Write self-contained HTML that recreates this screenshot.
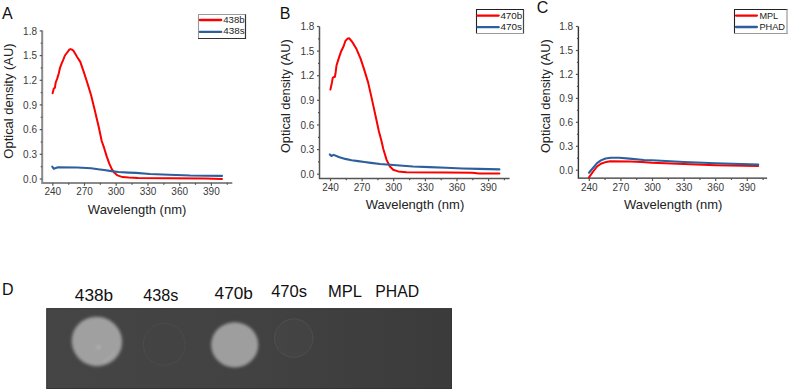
<!DOCTYPE html>
<html><head><meta charset="utf-8"><style>
html,body{margin:0;padding:0;background:#fff;}
body{width:789px;height:390px;overflow:hidden;}
svg{display:block;font-family:"Liberation Sans", sans-serif;}
</style></head><body>
<svg width="789" height="390" viewBox="0 0 789 390">
<text x="2.0" y="18.9" font-size="16" fill="#111">A</text>
<path d="M42.2,30.5V183.0H232.3" fill="none" stroke="#8a8a8a" stroke-width="2.0"/>
<path d="M39.7,179.0H42.2" stroke="#555" stroke-width="1.2"/>
<text x="37.0" y="182.6" font-size="10" text-anchor="end" fill="#3a3a3a">0.0</text>
<path d="M40.7,166.7H42.2" stroke="#555" stroke-width="1.2"/>
<path d="M39.7,154.3H42.2" stroke="#555" stroke-width="1.2"/>
<text x="37.0" y="157.9" font-size="10" text-anchor="end" fill="#3a3a3a">0.3</text>
<path d="M40.7,142.0H42.2" stroke="#555" stroke-width="1.2"/>
<path d="M39.7,129.6H42.2" stroke="#555" stroke-width="1.2"/>
<text x="37.0" y="133.2" font-size="10" text-anchor="end" fill="#3a3a3a">0.6</text>
<path d="M40.7,117.3H42.2" stroke="#555" stroke-width="1.2"/>
<path d="M39.7,104.9H42.2" stroke="#555" stroke-width="1.2"/>
<text x="37.0" y="108.5" font-size="10" text-anchor="end" fill="#3a3a3a">0.9</text>
<path d="M40.7,92.6H42.2" stroke="#555" stroke-width="1.2"/>
<path d="M39.7,80.3H42.2" stroke="#555" stroke-width="1.2"/>
<text x="37.0" y="83.9" font-size="10" text-anchor="end" fill="#3a3a3a">1.2</text>
<path d="M40.7,67.9H42.2" stroke="#555" stroke-width="1.2"/>
<path d="M39.7,55.6H42.2" stroke="#555" stroke-width="1.2"/>
<text x="37.0" y="59.2" font-size="10" text-anchor="end" fill="#3a3a3a">1.5</text>
<path d="M40.7,43.2H42.2" stroke="#555" stroke-width="1.2"/>
<path d="M39.7,30.9H42.2" stroke="#555" stroke-width="1.2"/>
<text x="37.0" y="34.5" font-size="10" text-anchor="end" fill="#3a3a3a">1.8</text>
<path d="M52.8,183.0V185.8" stroke="#555" stroke-width="1.2"/>
<text x="52.8" y="195.4" font-size="10" text-anchor="middle" fill="#3a3a3a">240</text>
<path d="M84.5,183.0V185.8" stroke="#555" stroke-width="1.2"/>
<text x="84.5" y="195.4" font-size="10" text-anchor="middle" fill="#3a3a3a">270</text>
<path d="M116.2,183.0V185.8" stroke="#555" stroke-width="1.2"/>
<text x="116.2" y="195.4" font-size="10" text-anchor="middle" fill="#3a3a3a">300</text>
<path d="M148.0,183.0V185.8" stroke="#555" stroke-width="1.2"/>
<text x="148.0" y="195.4" font-size="10" text-anchor="middle" fill="#3a3a3a">330</text>
<path d="M179.7,183.0V185.8" stroke="#555" stroke-width="1.2"/>
<text x="179.7" y="195.4" font-size="10" text-anchor="middle" fill="#3a3a3a">360</text>
<path d="M211.4,183.0V185.8" stroke="#555" stroke-width="1.2"/>
<text x="211.4" y="195.4" font-size="10" text-anchor="middle" fill="#3a3a3a">390</text>
<path d="M68.7,183.0V184.8" stroke="#555" stroke-width="1.2"/>
<path d="M100.4,183.0V184.8" stroke="#555" stroke-width="1.2"/>
<path d="M132.1,183.0V184.8" stroke="#555" stroke-width="1.2"/>
<path d="M163.8,183.0V184.8" stroke="#555" stroke-width="1.2"/>
<path d="M195.5,183.0V184.8" stroke="#555" stroke-width="1.2"/>
<path d="M227.3,183.0V184.8" stroke="#555" stroke-width="1.2"/>
<text x="137.1" y="214.3" font-size="13" text-anchor="middle" fill="#222">Wavelength (nm)</text>
<text transform="translate(13.0,101.0) rotate(-90)" font-size="13" text-anchor="middle" textLength="115.3" lengthAdjust="spacingAndGlyphs" fill="#222">Optical density (AU)</text>
<polyline points="52.6,93.2 53.8,88.6 54.9,87.8 55.7,82.5 57.2,78.6 58.8,73.2 60.0,67.8 61.8,63.2 63.4,59.4 64.9,55.5 67.2,52.5 69.5,49.4 70.6,49.1 72.0,49.6 73.5,50.8 77.0,56.8 80.3,61.9 83.4,70.9 87.2,82.5 91.1,95.3 94.9,110.7 98.8,127.3 101.7,141.0 104.2,148.2 106.7,156.4 109.3,163.6 111.8,169.2 114.4,172.8 117.5,175.4 122.6,177.1 128.8,177.6 138.0,178.1 170.0,178.2 205.0,178.4 222.0,178.9" fill="none" stroke="#fa0000" stroke-width="2.0" stroke-linejoin="round" stroke-linecap="round"/>
<polyline points="52.2,166.5 53.8,168.8 58.0,167.3 77.2,167.5 91.1,168.2 98.0,169.2 104.2,170.0 111.3,171.1 118.5,172.0 128.8,172.6 136.0,172.9 150.0,174.0 169.0,174.7 190.0,175.5 222.0,175.9" fill="none" stroke="#2c5f9c" stroke-width="2.1" stroke-linejoin="round" stroke-linecap="round"/>
<rect x="198.5" y="14.5" width="47.0" height="24.0" fill="#fff"/>
<path d="M198.0,14.5H246.0" stroke="#999" stroke-width="1.1"/>
<path d="M198.5,14.5V38.5" stroke="#999" stroke-width="1.1"/>
<path d="M245.5,14.5V39.0" stroke="#333" stroke-width="1.2"/>
<path d="M198.0,38.5H246.0" stroke="#333" stroke-width="1.2"/>
<path d="M199.8,20.0H221.2" stroke="#fa0000" stroke-width="2.3" stroke-linecap="round"/>
<path d="M199.8,31.9H221.2" stroke="#2c5f9c" stroke-width="2.3" stroke-linecap="round"/>
<text x="223.3" y="23.0" font-size="9.8" textLength="21.3" lengthAdjust="spacingAndGlyphs" fill="#222">438b</text>
<text x="223.3" y="34.3" font-size="9.8" textLength="21.3" lengthAdjust="spacingAndGlyphs" fill="#222">438s</text>
<text x="279.8" y="18.9" font-size="16" fill="#111">B</text>
<path d="M319.5,26.5V178.4H509.6" fill="none" stroke="#555" stroke-width="1.5"/>
<path d="M317.0,174.2H319.5" stroke="#555" stroke-width="1.2"/>
<text x="314.3" y="177.8" font-size="10" text-anchor="end" fill="#3a3a3a">0.0</text>
<path d="M318.0,161.9H319.5" stroke="#555" stroke-width="1.2"/>
<path d="M317.0,149.6H319.5" stroke="#555" stroke-width="1.2"/>
<text x="314.3" y="153.2" font-size="10" text-anchor="end" fill="#3a3a3a">0.3</text>
<path d="M318.0,137.3H319.5" stroke="#555" stroke-width="1.2"/>
<path d="M317.0,125.0H319.5" stroke="#555" stroke-width="1.2"/>
<text x="314.3" y="128.6" font-size="10" text-anchor="end" fill="#3a3a3a">0.6</text>
<path d="M318.0,112.7H319.5" stroke="#555" stroke-width="1.2"/>
<path d="M317.0,100.3H319.5" stroke="#555" stroke-width="1.2"/>
<text x="314.3" y="103.9" font-size="10" text-anchor="end" fill="#3a3a3a">0.9</text>
<path d="M318.0,88.0H319.5" stroke="#555" stroke-width="1.2"/>
<path d="M317.0,75.7H319.5" stroke="#555" stroke-width="1.2"/>
<text x="314.3" y="79.3" font-size="10" text-anchor="end" fill="#3a3a3a">1.2</text>
<path d="M318.0,63.4H319.5" stroke="#555" stroke-width="1.2"/>
<path d="M317.0,51.1H319.5" stroke="#555" stroke-width="1.2"/>
<text x="314.3" y="54.7" font-size="10" text-anchor="end" fill="#3a3a3a">1.5</text>
<path d="M318.0,38.8H319.5" stroke="#555" stroke-width="1.2"/>
<path d="M317.0,26.5H319.5" stroke="#555" stroke-width="1.2"/>
<text x="314.3" y="30.1" font-size="10" text-anchor="end" fill="#3a3a3a">1.8</text>
<path d="M330.5,178.4V181.20000000000002" stroke="#555" stroke-width="1.2"/>
<text x="330.5" y="190.8" font-size="10" text-anchor="middle" fill="#3a3a3a">240</text>
<path d="M362.1,178.4V181.20000000000002" stroke="#555" stroke-width="1.2"/>
<text x="362.1" y="190.8" font-size="10" text-anchor="middle" fill="#3a3a3a">270</text>
<path d="M393.7,178.4V181.20000000000002" stroke="#555" stroke-width="1.2"/>
<text x="393.7" y="190.8" font-size="10" text-anchor="middle" fill="#3a3a3a">300</text>
<path d="M425.4,178.4V181.20000000000002" stroke="#555" stroke-width="1.2"/>
<text x="425.4" y="190.8" font-size="10" text-anchor="middle" fill="#3a3a3a">330</text>
<path d="M457.0,178.4V181.20000000000002" stroke="#555" stroke-width="1.2"/>
<text x="457.0" y="190.8" font-size="10" text-anchor="middle" fill="#3a3a3a">360</text>
<path d="M488.6,178.4V181.20000000000002" stroke="#555" stroke-width="1.2"/>
<text x="488.6" y="190.8" font-size="10" text-anchor="middle" fill="#3a3a3a">390</text>
<path d="M346.3,178.4V180.20000000000002" stroke="#555" stroke-width="1.2"/>
<path d="M377.9,178.4V180.20000000000002" stroke="#555" stroke-width="1.2"/>
<path d="M409.6,178.4V180.20000000000002" stroke="#555" stroke-width="1.2"/>
<path d="M441.2,178.4V180.20000000000002" stroke="#555" stroke-width="1.2"/>
<path d="M472.8,178.4V180.20000000000002" stroke="#555" stroke-width="1.2"/>
<path d="M504.4,178.4V180.20000000000002" stroke="#555" stroke-width="1.2"/>
<text x="415.0" y="208.8" font-size="13" text-anchor="middle" fill="#222">Wavelength (nm)</text>
<text transform="translate(290.3,96.2) rotate(-90)" font-size="13" text-anchor="middle" textLength="113.8" lengthAdjust="spacingAndGlyphs" fill="#222">Optical density (AU)</text>
<polyline points="330.4,89.6 331.9,82.7 332.7,78.1 333.9,77.0 334.8,77.1 335.5,73.5 336.5,65.5 338.8,58.1 341.2,51.2 343.5,46.5 345.3,41.2 347.3,38.8 349.3,38.3 351.9,41.5 353.8,44.4 356.5,49.1 360.4,58.1 364.2,69.6 368.1,82.4 371.9,99.1 375.8,117.0 378.8,131.0 381.5,141.0 383.3,149.0 386.6,159.9 389.9,166.5 393.2,169.8 398.1,171.4 406.4,172.2 445.9,172.6 472.3,172.8 478.8,173.5 499.4,173.6" fill="none" stroke="#fa0000" stroke-width="2.0" stroke-linejoin="round" stroke-linecap="round"/>
<polyline points="329.8,154.4 331.4,156.0 333.7,154.9 338.8,157.0 345.2,158.9 351.6,160.2 358.0,161.1 364.5,162.0 370.9,162.9 380.0,164.0 396.5,165.3 412.9,166.5 429.4,167.1 445.9,167.8 462.4,168.5 478.8,168.9 499.4,169.4" fill="none" stroke="#2c5f9c" stroke-width="2.1" stroke-linejoin="round" stroke-linecap="round"/>
<rect x="476.5" y="9.5" width="47.0" height="24.0" fill="#fff"/>
<path d="M476.0,9.5H524.0" stroke="#222" stroke-width="1.1"/>
<path d="M476.5,9.5V33.5" stroke="#222" stroke-width="1.1"/>
<path d="M523.5,9.5V34.0" stroke="#444" stroke-width="1.2"/>
<path d="M476.0,33.5H524.0" stroke="#999" stroke-width="1.2"/>
<path d="M477.5,15.6H498.7" stroke="#fa0000" stroke-width="2.3" stroke-linecap="round"/>
<path d="M477.5,27.2H498.7" stroke="#2c5f9c" stroke-width="2.3" stroke-linecap="round"/>
<text x="500.4" y="18.7" font-size="9.8" textLength="21.9" lengthAdjust="spacingAndGlyphs" fill="#222">470b</text>
<text x="500.4" y="30.0" font-size="9.8" textLength="21.5" lengthAdjust="spacingAndGlyphs" fill="#222">470s</text>
<text x="536.8" y="12.9" font-size="16" fill="#111">C</text>
<path d="M578.4,26.5V178.1H767.1" fill="none" stroke="#333" stroke-width="1.4"/>
<path d="M575.9,170.2H578.4" stroke="#555" stroke-width="1.2"/>
<text x="573.1999999999999" y="173.8" font-size="10" text-anchor="end" fill="#3a3a3a">0.0</text>
<path d="M576.9,158.2H578.4" stroke="#555" stroke-width="1.2"/>
<path d="M575.9,146.3H578.4" stroke="#555" stroke-width="1.2"/>
<text x="573.1999999999999" y="149.9" font-size="10" text-anchor="end" fill="#3a3a3a">0.3</text>
<path d="M576.9,134.3H578.4" stroke="#555" stroke-width="1.2"/>
<path d="M575.9,122.3H578.4" stroke="#555" stroke-width="1.2"/>
<text x="573.1999999999999" y="125.9" font-size="10" text-anchor="end" fill="#3a3a3a">0.6</text>
<path d="M576.9,110.3H578.4" stroke="#555" stroke-width="1.2"/>
<path d="M575.9,98.4H578.4" stroke="#555" stroke-width="1.2"/>
<text x="573.1999999999999" y="102.0" font-size="10" text-anchor="end" fill="#3a3a3a">0.9</text>
<path d="M576.9,86.4H578.4" stroke="#555" stroke-width="1.2"/>
<path d="M575.9,74.4H578.4" stroke="#555" stroke-width="1.2"/>
<text x="573.1999999999999" y="78.0" font-size="10" text-anchor="end" fill="#3a3a3a">1.2</text>
<path d="M576.9,62.4H578.4" stroke="#555" stroke-width="1.2"/>
<path d="M575.9,50.5H578.4" stroke="#555" stroke-width="1.2"/>
<text x="573.1999999999999" y="54.1" font-size="10" text-anchor="end" fill="#3a3a3a">1.5</text>
<path d="M576.9,38.5H578.4" stroke="#555" stroke-width="1.2"/>
<path d="M575.9,26.5H578.4" stroke="#555" stroke-width="1.2"/>
<text x="573.1999999999999" y="30.1" font-size="10" text-anchor="end" fill="#3a3a3a">1.8</text>
<path d="M589.3,178.1V180.9" stroke="#555" stroke-width="1.2"/>
<text x="589.3" y="190.5" font-size="10" text-anchor="middle" fill="#3a3a3a">240</text>
<path d="M620.9,178.1V180.9" stroke="#555" stroke-width="1.2"/>
<text x="620.9" y="190.5" font-size="10" text-anchor="middle" fill="#3a3a3a">270</text>
<path d="M652.5,178.1V180.9" stroke="#555" stroke-width="1.2"/>
<text x="652.5" y="190.5" font-size="10" text-anchor="middle" fill="#3a3a3a">300</text>
<path d="M684.1,178.1V180.9" stroke="#555" stroke-width="1.2"/>
<text x="684.1" y="190.5" font-size="10" text-anchor="middle" fill="#3a3a3a">330</text>
<path d="M715.7,178.1V180.9" stroke="#555" stroke-width="1.2"/>
<text x="715.7" y="190.5" font-size="10" text-anchor="middle" fill="#3a3a3a">360</text>
<path d="M747.3,178.1V180.9" stroke="#555" stroke-width="1.2"/>
<text x="747.3" y="190.5" font-size="10" text-anchor="middle" fill="#3a3a3a">390</text>
<path d="M605.1,178.1V179.9" stroke="#555" stroke-width="1.2"/>
<path d="M636.7,178.1V179.9" stroke="#555" stroke-width="1.2"/>
<path d="M668.3,178.1V179.9" stroke="#555" stroke-width="1.2"/>
<path d="M699.9,178.1V179.9" stroke="#555" stroke-width="1.2"/>
<path d="M731.5,178.1V179.9" stroke="#555" stroke-width="1.2"/>
<path d="M763.1,178.1V179.9" stroke="#555" stroke-width="1.2"/>
<text x="673.2" y="208.6" font-size="13" text-anchor="middle" fill="#222">Wavelength (nm)</text>
<text transform="translate(550.3,96.2) rotate(-90)" font-size="13" text-anchor="middle" textLength="113.8" lengthAdjust="spacingAndGlyphs" fill="#222">Optical density (AU)</text>
<polyline points="589.0,177.3 593.2,171.5 597.1,166.5 600.9,163.8 606.3,161.9 610.2,161.2 630.2,161.4 641.7,161.9 652.0,162.8 684.0,164.1 715.6,165.3 758.2,166.1" fill="none" stroke="#fa0000" stroke-width="2.0" stroke-linejoin="round" stroke-linecap="round"/>
<polyline points="589.0,172.7 593.2,167.7 597.1,163.1 600.9,160.4 605.5,158.5 610.9,157.8 619.4,157.8 629.4,158.6 644.0,160.0 652.0,160.3 684.0,162.0 715.6,163.3 758.2,164.6" fill="none" stroke="#2c5f9c" stroke-width="2.1" stroke-linejoin="round" stroke-linecap="round"/>
<rect x="734.5" y="9.5" width="52.5" height="24.0" fill="#fff"/>
<path d="M734.0,9.5H787.5" stroke="#222" stroke-width="1.1"/>
<path d="M734.5,9.5V33.5" stroke="#222" stroke-width="1.1"/>
<path d="M787.0,9.5V34.0" stroke="#999" stroke-width="1.2"/>
<path d="M734.0,33.5H787.5" stroke="#999" stroke-width="1.2"/>
<path d="M736.0,15.6H756.9000000000001" stroke="#fa0000" stroke-width="2.3" stroke-linecap="round"/>
<path d="M736.0,27.0H756.9000000000001" stroke="#2c5f9c" stroke-width="2.3" stroke-linecap="round"/>
<text x="759.4" y="18.7" font-size="9.8" textLength="18.8" lengthAdjust="spacingAndGlyphs" fill="#222">MPL</text>
<text x="759.4" y="29.9" font-size="9.8" textLength="25.6" lengthAdjust="spacingAndGlyphs" fill="#222">PHAD</text>
<text x="1.9" y="294.7" font-size="16" fill="#111">D</text>
<text x="94.0" y="300.8" font-size="17" text-anchor="middle" textLength="38.33" lengthAdjust="spacingAndGlyphs" fill="#111">438b</text>
<text x="160.8" y="300.8" font-size="17" text-anchor="middle" textLength="35.17" lengthAdjust="spacingAndGlyphs" fill="#111">438s</text>
<text x="233.8" y="298.8" font-size="17" text-anchor="middle" textLength="38.33" lengthAdjust="spacingAndGlyphs" fill="#111">470b</text>
<text x="289.1" y="297.2" font-size="17" text-anchor="middle" textLength="35.94" lengthAdjust="spacingAndGlyphs" fill="#111">470s</text>
<text x="345.0" y="297.0" font-size="17" text-anchor="middle" textLength="34.11" lengthAdjust="spacingAndGlyphs" fill="#111">MPL</text>
<text x="397.2" y="296.9" font-size="17" text-anchor="middle" textLength="43.77" lengthAdjust="spacingAndGlyphs" fill="#111">PHAD</text>
<defs>
<linearGradient id="bg" x1="0" x2="1" y1="0" y2="0"><stop offset="0" stop-color="#454545"/><stop offset="0.5" stop-color="#424242"/><stop offset="1" stop-color="#3b3b3b"/></linearGradient>
<radialGradient id="sp"><stop offset="0" stop-color="#a2a2a2"/><stop offset="0.85" stop-color="#9c9c9c"/><stop offset="1" stop-color="#9c9c9c" stop-opacity="0"/></radialGradient>
<filter id="bl" x="-20%" y="-20%" width="140%" height="140%"><feGaussianBlur stdDeviation="1.2"/></filter><filter id="bl2" x="-30%" y="-30%" width="160%" height="160%"><feGaussianBlur stdDeviation="1.6"/></filter><filter id="bl0" x="-20%" y="-20%" width="140%" height="140%"><feGaussianBlur stdDeviation="0.6"/></filter>
</defs>
<rect x="46.7" y="308.6" width="404.8" height="79.9" fill="url(#bg)" stroke="#343434" stroke-width="1"/>
<ellipse cx="96.9" cy="341.4" rx="25.3" ry="24.6" fill="#a0a0a0" filter="url(#bl2)" transform="rotate(20 96.9 341.4)"/>
<ellipse cx="234.7" cy="344.8" rx="23.6" ry="22.6" fill="#9e9e9e" filter="url(#bl2)"/>
<circle cx="164.2" cy="344.3" r="21" fill="none" stroke="#4c4c4c" stroke-width="0.9" filter="url(#bl0)"/>
<circle cx="98.6" cy="347.2" r="2.6" fill="#aaaaaa" filter="url(#bl)"/>
<path d="M103,361 Q110,358 114,352" fill="none" stroke="#a9a9a9" stroke-width="1.5" filter="url(#bl)"/>
<circle cx="293.7" cy="338.1" r="19.2" fill="#ffffff" fill-opacity="0.015" stroke="#505050" stroke-width="0.9" filter="url(#bl0)"/>
</svg>
</body></html>
